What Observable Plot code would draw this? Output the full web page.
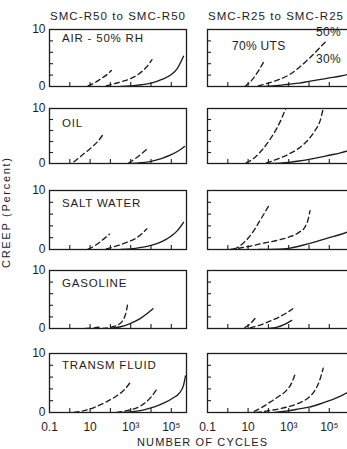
<!DOCTYPE html>
<html>
<head>
<meta charset="utf-8">
<script src="https://cdn.jsdelivr.net/npm/d3@7"></script>
<script src="https://cdn.jsdelivr.net/npm/@observablehq/plot@0.6"></script>
<style>
  html, body { margin: 0; padding: 0; background: #fff; overflow: hidden; }
  #chart { position: relative; width: 347px; height: 449px; overflow: hidden;
           font-family: "Liberation Sans", Arial, sans-serif; }
  #chart > svg { position: absolute; }
</style>
</head>
<body>
<div id="chart"></div>
<script>
// ---- Creep of SMC laminates under cyclic loading, by environment ----
const columnTitles = ["SMC-R50 to SMC-R50", "SMC-R25 to SMC-R25"];
const media = ["AIR - 50% RH", "OIL", "SALT WATER", "GASOLINE", "TRANSM FLUID"];
const stressLevels = ["70%", "50%", "30%"];
const stressLabels = ["70% UTS", "50%", "30%"];
const xTickValues = [0.1, 10, 1e3, 1e5];
const xTickLabels = ["0.1", "10", "10³", "10⁵"];
const xMinorTicks = [1, 10, 100, 1e3, 1e4, 1e5];
const yLabelTicks = [0, 10];
const yMinorTicks = [2, 4, 6, 8];

// Each curve: [number of cycles, creep in percent]
const airR50 = {
  "70%": [[8, 0.1], [16, 0.6], [32, 1.3], [63, 2.0], [112, 2.8]],
  "50%": [[63, 0.1], [160, 0.5], [400, 0.9], [1000, 1.4], [2500, 2.2], [6300, 3.5], [11200, 4.7]],
  "30%": [[320, 0], [1000, 0.1], [3200, 0.3], [10000, 0.6], [32000, 1.2], [100000, 2.1], [200000, 3.2], [400000, 5.3]]
};
const airR25 = {
  "70%": [[7, 0], [16, 1.2], [32, 2.7], [56, 4.2]],
  "50%": [[32, 0.1], [100, 0.6], [320, 1.2], [1000, 2.0], [3200, 3.3], [10000, 4.9], [32000, 6.7], [63000, 7.8]],
  "30%": [[63, 0], [320, 0.2], [1000, 0.4], [3200, 0.6], [10000, 0.9], [32000, 1.2], [100000, 1.5], [320000, 1.8], [1000000, 2.2]]
};
const oilR50 = {
  "70%": [[1.6, 0.3], [4, 1.5], [10, 2.7], [25, 4.1], [50, 5.6]],
  "50%": [[800, 0.1], [2000, 1.1], [6300, 2.6]],
  "30%": [[1000, 0], [3200, 0.15], [10000, 0.4], [32000, 0.9], [100000, 1.6], [250000, 2.4], [450000, 3.1]]
};
const oilR25 = {
  "70%": [[8, 0.1], [20, 1.0], [50, 2.5], [126, 4.5], [250, 6.3], [450, 8.2], [710, 10]],
  "50%": [[80, 0.1], [320, 0.9], [1000, 1.7], [3200, 2.8], [10000, 4.5], [20000, 6.0], [35500, 7.8], [50000, 10]],
  "30%": [[100, 0], [1000, 0.2], [3200, 0.45], [10000, 0.75], [32000, 1.1], [100000, 1.5], [320000, 1.9], [1000000, 2.4]]
};
const saltR50 = {
  "70%": [[8, 0.05], [20, 0.8], [40, 1.6], [90, 2.6]],
  "50%": [[63, 0.1], [200, 0.6], [630, 1.2], [2000, 2.0], [6300, 3.5]],
  "30%": [[320, 0], [1000, 0.1], [3200, 0.35], [10000, 0.7], [32000, 1.3], [100000, 2.3], [200000, 3.2], [400000, 4.6]]
};
const saltR25 = {
  "70%": [[2, 0], [5, 0.9], [10, 1.9], [20, 3.3], [40, 5.0], [70, 6.4], [112, 7.6]],
  "50%": [[1.3, 0], [10, 0.5], [63, 1.1], [320, 1.6], [1000, 2.1], [3200, 2.9], [6300, 3.8], [8900, 5.0], [11200, 6.6]],
  "30%": [[32, 0], [320, 0.05], [1000, 0.2], [3200, 0.55], [10000, 1.0], [32000, 1.5], [100000, 2.0], [320000, 2.5], [1000000, 3.1]]
};
const gasolineR50 = {
  "70%": [[6, 0], [16, 0.1], [40, 0.3]],
  "50%": [[40, 0], [160, 0.4], [355, 1.1], [500, 2.0], [630, 3.2], [710, 4.3]],
  "30%": [[100, 0], [320, 0.3], [1000, 0.9], [3200, 1.8], [12600, 3.4]]
};
const gasolineR25 = {
  "70%": [[7, 0.2], [12.6, 0.8], [25, 2.0]],
  "50%": [[12.6, 0.1], [40, 0.6], [126, 1.3], [400, 2.1], [1600, 3.4]],
  "30%": [[100, 0], [250, 0.2], [630, 0.7], [1400, 1.4]]
};
const transmR50 = {
  "70%": [[1.6, 0], [6.3, 0.4], [20, 1.0], [63, 1.8], [200, 2.8], [500, 3.9], [1000, 5.2]],
  "50%": [[200, 0], [630, 0.3], [2000, 0.8], [5000, 1.6], [10000, 2.6], [20000, 4.0]],
  "30%": [[400, 0], [1600, 0.2], [5000, 0.5], [16000, 1.0], [50000, 1.7], [126000, 2.5], [250000, 3.3], [400000, 4.6], [500000, 6.2]]
};
const transmR25 = {
  "70%": [[20, 0.2], [50, 0.9], [126, 1.8], [316, 2.7], [800, 3.8], [1400, 5.0], [2200, 6.8]],
  "50%": [[25, 0], [100, 0.3], [316, 0.6], [1000, 1.0], [3200, 1.6], [10000, 2.6], [20000, 3.8], [31600, 5.2], [50000, 7.5]],
  "30%": [[200, 0], [1000, 0.3], [3200, 0.6], [10000, 0.9], [31600, 1.4], [100000, 2.0], [316000, 2.7], [1000000, 3.6]]
};

const grid = [
  [airR50, airR25],
  [oilR50, oilR25],
  [saltR50, saltR25],
  [gasolineR50, gasolineR25],
  [transmR50, transmR25]
];

// ---- layout ----
const ink = "#1d1d1d";
const font = '"Liberation Sans", Arial, sans-serif';
const colLeft = [49, 207];
const colWidth = [137, 150];
const pxPerDecade = 20.3;
const rowTop = [29, 108, 190, 270, 353];
const rowBottom = [86, 163, 249, 328, 412];
const labelBaseline = [42, 127, 207, 287, 369];

const chart = document.getElementById("chart");

function panel(col, row, curves) {
  const w = colWidth[col], h = rowBottom[row] - rowTop[row];
  const mL = 24, mR = 1, mT = 8, mB = row === 4 ? 28 : 4;
  const xMax = 0.1 * Math.pow(10, w / pxPerDecade);
  const marks = [
    Plot.axisY({ticks: yMinorTicks, tickSize: -4, tickFormat: () => "", stroke: ink, strokeWidth: 1.1}),
    Plot.axisX({ticks: xMinorTicks, tickSize: -4, tickFormat: () => "", stroke: ink, strokeWidth: 1.1})
  ];
  if (col === 0) {
    marks.push(Plot.axisY({ticks: yLabelTicks, tickSize: 0, tickPadding: 4, fontSize: 12,
      tickFormat: d => String(d)}));
  }
  if (row === 4) {
    marks.push(Plot.axisX({ticks: xTickValues, tickSize: 0, tickPadding: 10, fontSize: 12,
      tickFormat: d => xTickLabels[xTickValues.indexOf(d)]}));
  }
  stressLevels.forEach((s, i) => {
    marks.push(Plot.line(curves[s], {
      x: d => d[0], y: d => d[1],
      stroke: ink, strokeWidth: 1.35,
      strokeDasharray: i < 2 ? "5,3.5" : null,
      curve: "monotone-x", clip: true
    }));
  });
  marks.push(Plot.frame({stroke: ink, strokeWidth: 1.3}));
  const svg = Plot.plot({
    width: w + mL + mR, height: h + mT + mB,
    marginLeft: mL, marginRight: mR, marginTop: mT, marginBottom: mB,
    x: {type: "log", domain: [0.1, xMax], label: null},
    y: {domain: [0, 10], label: null},
    style: {fontFamily: font, color: ink, background: "transparent", overflow: "visible"},
    marks
  });
  svg.style.left = (colLeft[col] - mL) + "px";
  svg.style.top = (rowTop[row] - mT) + "px";
  chart.appendChild(svg);
}

grid.forEach((pair, row) => pair.forEach((curves, col) => panel(col, row, curves)));

// ---- titles and labels ----
const overlay = d3.select(chart).append("svg")
  .attr("width", 347).attr("height", 449)
  .style("left", "0px").style("top", "0px")
  .style("font-family", font).attr("fill", ink);

columnTitles.forEach((t, i) => {
  overlay.append("text").attr("x", colLeft[i] + 1).attr("y", 20)
    .attr("font-size", 11.5).attr("textLength", 135).attr("lengthAdjust", "spacing").text(t);
});

media.forEach((m, row) => {
  overlay.append("text").attr("x", colLeft[0] + 13).attr("y", labelBaseline[row])
    .attr("font-size", 11.5).attr("letter-spacing", 0.8).text(m);
});

const stressPos = [[232, 50], [316, 36], [316, 63]];
stressLabels.forEach((s, i) => {
  overlay.append("text").attr("x", stressPos[i][0]).attr("y", stressPos[i][1])
    .attr("font-size", 12).attr("letter-spacing", 0.3).text(s);
});

overlay.append("text")
  .attr("transform", "translate(10,213) rotate(-90)")
  .attr("text-anchor", "middle").attr("font-size", 11)
  .attr("textLength", 110).attr("lengthAdjust", "spacing")
  .text("CREEP (Percent)");

overlay.append("text")
  .attr("x", 202).attr("y", 446)
  .attr("text-anchor", "middle").attr("font-size", 11)
  .attr("textLength", 130).attr("lengthAdjust", "spacing")
  .text("NUMBER OF CYCLES");
</script>
</body>
</html>
